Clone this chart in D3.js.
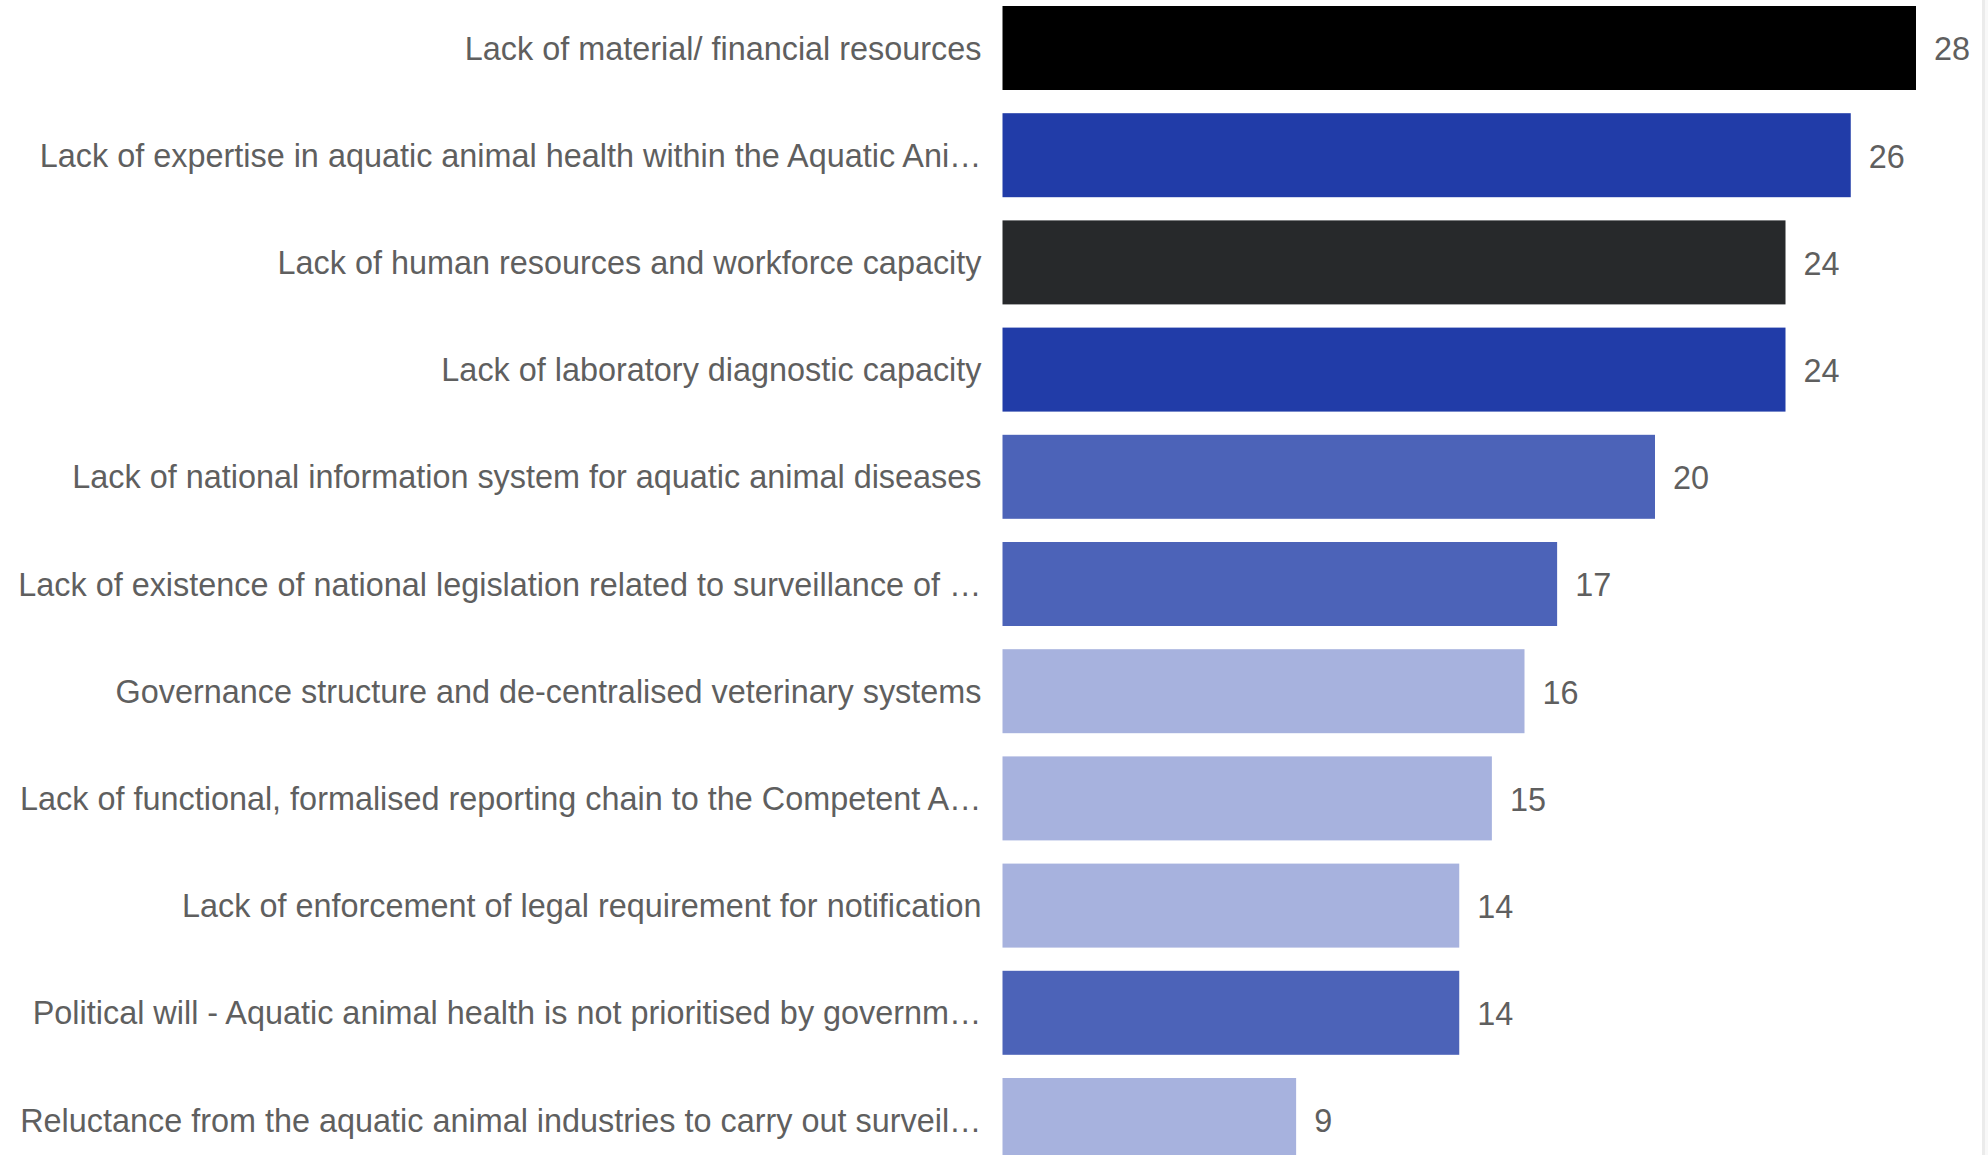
<!DOCTYPE html>
<html>
<head>
<meta charset="utf-8">
<script src="https://cdn.jsdelivr.net/npm/d3@7"></script>
<style>
  html, body { margin: 0; padding: 0; background: #ffffff; }
  svg { display: block; }
</style>
</head>
<body>
<svg id="chart" width="1988" height="1155"></svg>
<script>
// Obstacles to aquatic animal disease surveillance (number of responses)
const categories = [
  "Lack of material/ financial resources",
  "Lack of expertise in aquatic animal health within the Aquatic Ani\u2026",
  "Lack of human resources and workforce capacity",
  "Lack of laboratory diagnostic capacity",
  "Lack of national information system for aquatic animal diseases",
  "Lack of existence of national legislation related to surveillance of \u2026",
  "Governance structure and de-centralised veterinary systems",
  "Lack of functional, formalised reporting chain to the Competent A\u2026",
  "Lack of enforcement of legal requirement for notification",
  "Political will - Aquatic animal health is not prioritised by governm\u2026",
  "Reluctance from the aquatic animal industries to carry out surveil\u2026"
];
const values = [28, 26, 24, 24, 20, 17, 16, 15, 14, 14, 9];
const colorGroups = ["black", "blue", "charcoal", "blue", "mid", "mid", "light", "light", "light", "mid", "light"];

const palette = {
  black: "#000000",
  charcoal: "#27292b",
  blue: "#213ca8",
  mid: "#4c63b8",
  light: "#a7b2de"
};

const data = categories.map((c, i) => ({ category: c, value: values[i], group: colorGroups[i] }));

const W = 1988, H = 1155;
const svg = d3.select("#chart");

const y = d3.scaleBand()
  .domain(categories)
  .range([6, 1162])
  .paddingInner(0.2164)
  .paddingOuter(0);

const x = d3.scaleLinear()
  .domain([0, d3.max(values)])
  .range([1002.5, 1916]);

const font = "'Liberation Sans', Arial, Helvetica, sans-serif";
const textColor = "#5f5f5f";

// bars
svg.append("g")
  .selectAll("rect")
  .data(data)
  .join("rect")
  .attr("x", x(0))
  .attr("y", d => y(d.category))
  .attr("width", d => x(d.value) - x(0))
  .attr("height", y.bandwidth())
  .attr("fill", d => palette[d.group]);

// category labels
svg.append("g")
  .selectAll("text")
  .data(data)
  .join("text")
  .attr("x", x(0) - 21)
  .attr("y", d => y(d.category) + y.bandwidth() / 2)
  .attr("dy", "0.36em")
  .attr("text-anchor", "end")
  .attr("font-family", font)
  .attr("font-size", 32.4)
  .attr("fill", textColor)
  .text(d => d.category);

// value labels
svg.append("g")
  .selectAll("text")
  .data(data)
  .join("text")
  .attr("x", d => x(d.value) + 18)
  .attr("y", d => y(d.category) + y.bandwidth() / 2)
  .attr("dy", "0.38em")
  .attr("font-family", font)
  .attr("font-size", 32.4)
  .attr("fill", textColor)
  .text(d => d.value);

// panel edge on the right
svg.append("rect").attr("x", 1982).attr("y", 0).attr("width", 3).attr("height", H).attr("fill", "#ebebeb");
svg.append("rect").attr("x", 1985).attr("y", 0).attr("width", 3).attr("height", H).attr("fill", "#f8f8f8");
</script>
</body>
</html>
